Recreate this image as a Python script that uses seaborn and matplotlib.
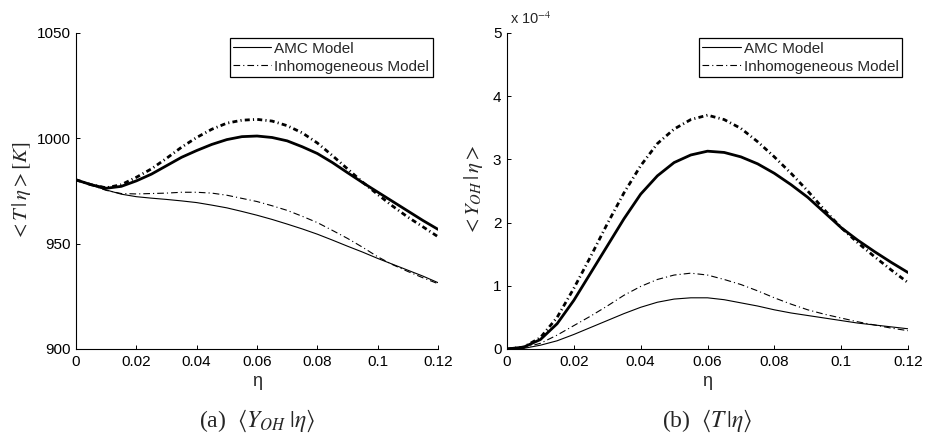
import matplotlib
matplotlib.use("Agg")
import matplotlib.pyplot as plt
import seaborn as sns
import pandas as pd
from matplotlib.lines import Line2D

# mixture fraction samples
eta = [0.000, 0.005, 0.010, 0.015, 0.020, 0.025, 0.030, 0.035, 0.040, 0.045,
       0.050, 0.055, 0.060, 0.065, 0.070, 0.075, 0.080, 0.085, 0.090, 0.095,
       0.100, 0.105, 0.110, 0.115, 0.120]

# conditional temperature <T|eta> [K]
T_amc_thick = [980.3, 978.0, 976.3, 977.2, 979.8, 983.0, 987.0, 991.0, 994.2, 997.1,
               999.4, 1000.8, 1001.1, 1000.4, 998.8, 996.0, 992.8, 988.5, 983.7, 979.0,
               974.5, 970.0, 965.5, 961.0, 956.8]
T_inh_thick = [980.3, 978.0, 976.5, 978.0, 981.5, 985.5, 990.5, 995.8, 1000.4, 1004.3,
               1007.2, 1008.6, 1009.0, 1008.2, 1006.0, 1002.6, 997.8, 991.8, 985.5, 979.2,
               973.4, 967.8, 962.6, 958.0, 953.3]
T_amc_thin = [980.3, 977.8, 975.5, 973.5, 972.3, 971.6, 971.0, 970.3, 969.5, 968.3,
              967.0, 965.3, 963.5, 961.5, 959.3, 957.0, 954.5, 951.7, 948.8, 946.0,
              943.0, 940.2, 937.4, 934.6, 931.5]
T_inh_thin = [980.3, 977.8, 975.3, 973.8, 973.6, 973.8, 974.0, 974.4, 974.4, 974.0,
              973.0, 971.5, 970.0, 968.0, 965.8, 963.0, 960.0, 956.3, 952.5, 948.3,
              943.8, 940.0, 936.8, 933.8, 931.0]

# conditional OH mass fraction <Y_OH|eta>, in units of 1e-4
Y_amc_thick = [0.00, 0.03, 0.15, 0.40, 0.77, 1.20, 1.63, 2.06, 2.45, 2.74,
               2.95, 3.07, 3.13, 3.11, 3.04, 2.93, 2.78, 2.60, 2.40, 2.16,
               1.92, 1.72, 1.54, 1.37, 1.21]
Y_inh_thick = [0.00, 0.03, 0.18, 0.50, 0.96, 1.46, 1.98, 2.47, 2.90, 3.25,
               3.48, 3.63, 3.70, 3.63, 3.49, 3.28, 3.04, 2.78, 2.50, 2.20,
               1.92, 1.68, 1.46, 1.25, 1.05]
Y_amc_thin = [0.00, 0.01, 0.06, 0.13, 0.23, 0.34, 0.45, 0.56, 0.66, 0.74,
              0.79, 0.81, 0.81, 0.78, 0.73, 0.68, 0.62, 0.57, 0.53, 0.49,
              0.45, 0.41, 0.38, 0.35, 0.32]
Y_inh_thin = [0.00, 0.02, 0.09, 0.22, 0.37, 0.52, 0.68, 0.85, 0.99, 1.10,
              1.17, 1.20, 1.17, 1.10, 1.02, 0.92, 0.81, 0.71, 0.62, 0.55,
              0.49, 0.43, 0.38, 0.33, 0.29]

x_ticks = [0, 0.02, 0.04, 0.06, 0.08, 0.1, 0.12]
x_ticklabels = ["0", "0.02", "0.04", "0.06", "0.08", "0.1", "0.12"]
T_ticks = [900, 950, 1000, 1050]
Y_ticks = [0, 1, 2, 3, 4, 5]
legend_labels = ["AMC Model", "Inhomogeneous Model"]

sns.set_theme(style="ticks")
plt.rcParams["font.family"] = ["Liberation Sans", "DejaVu Sans"]
plt.rcParams["mathtext.fontset"] = "stix"
plt.rcParams["lines.scale_dashes"] = False

DD_THICK = (0, (3.6, 2.3, 0.8, 2.3))
DD_THIN = (0, (4.8, 2.2, 0.8, 2.2))

fig = plt.figure(figsize=(9.3, 4.34), dpi=100)
ax1 = fig.add_axes([76 / 930, 85 / 434, 362 / 930, 316 / 434])
ax2 = fig.add_axes([507 / 930, 85 / 434, 401 / 930, 316 / 434])

df = pd.DataFrame({"eta": eta,
                   "T_amc_thick": T_amc_thick, "T_inh_thick": T_inh_thick,
                   "T_amc_thin": T_amc_thin, "T_inh_thin": T_inh_thin,
                   "Y_amc_thick": Y_amc_thick, "Y_inh_thick": Y_inh_thick,
                   "Y_amc_thin": Y_amc_thin, "Y_inh_thin": Y_inh_thin})


def draw_panel(ax, prefix):
    sns.lineplot(data=df, x="eta", y=f"{prefix}_amc_thick", ax=ax, color="black",
                 lw=2.0, linestyle="-")
    sns.lineplot(data=df, x="eta", y=f"{prefix}_inh_thick", ax=ax, color="black",
                 lw=2.0, linestyle=DD_THICK)
    sns.lineplot(data=df, x="eta", y=f"{prefix}_amc_thin", ax=ax, color="black",
                 lw=0.8, linestyle="-")
    sns.lineplot(data=df, x="eta", y=f"{prefix}_inh_thin", ax=ax, color="black",
                 lw=0.8, linestyle=DD_THIN)
    ax.set_xlim(0, 0.12)
    ax.set_xticks(x_ticks)
    ax.set_xticklabels(x_ticklabels)
    for side in ("top", "right"):
        ax.spines[side].set_visible(False)
    for side in ("left", "bottom"):
        ax.spines[side].set_linewidth(0.8)
        ax.spines[side].set_color("black")
    ax.tick_params(direction="in", length=3, width=0.7, labelsize=11,
                   colors="black", pad=4)
    ax.set_xlabel("η", fontsize=13, labelpad=3)
    handles = [Line2D([], [], color="black", lw=0.8, linestyle="-"),
               Line2D([], [], color="black", lw=0.8, linestyle=DD_THIN)]
    leg = ax.legend(handles, legend_labels, loc="upper right",
                    bbox_to_anchor=(0.985, 0.983), fontsize=11, frameon=True,
                    fancybox=False, framealpha=1, edgecolor="black",
                    handlelength=2.5, handletextpad=0.2, borderpad=0.22,
                    labelspacing=0.25, borderaxespad=0)
    leg.get_frame().set_linewidth(0.9)


draw_panel(ax1, "T")
ax1.set_ylim(900, 1050)
ax1.set_yticks(T_ticks)
ax1.set_ylabel(r"$<T\,|\,\eta>[K]$", fontsize=15)
ax1.yaxis.set_label_coords(-0.12, 0.5)

draw_panel(ax2, "Y")
ax2.set_ylim(0, 5)
ax2.set_yticks(Y_ticks)
ax2.set_ylabel(r"$<Y_{OH}\,|\,\eta>$", fontsize=15)
ax2.yaxis.set_label_coords(-0.055, 0.5)
ax2.text(0.008, 1.018, r"x 10$^{-4}$", transform=ax2.transAxes, fontsize=10.5,
         ha="left", va="bottom")

fig.text((76 + 438) / 2 / 930, 13 / 434, r"(a)  $\langle Y_{OH}\;|\eta\rangle$",
         ha="center", va="center", fontsize=17, family="Liberation Serif")
fig.text((507 + 908) / 2 / 930, 13 / 434, r"(b)  $\langle T\,|\eta\rangle$",
         ha="center", va="center", fontsize=17, family="Liberation Serif")

fig.savefig("out.png", dpi=100)
